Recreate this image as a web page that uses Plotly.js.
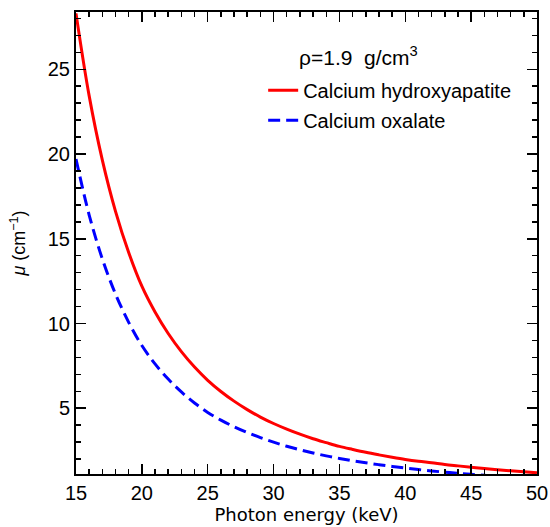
<!DOCTYPE html>
<html>
<head>
<meta charset="utf-8">
<script src="https://cdn.plot.ly/plotly-3.0.1.min.js"></script>
<style>html,body{margin:0;padding:0;background:#fff;}#chart{width:550px;height:527px;}</style>
</head>
<body>
<div id="chart"></div>
<script>
const energy = [15,16,17,18,19,20,21,22,23,24,25,26,27,28,29,30,31,32,33,34,35,36,37,38,39,40,41,42,43,44,45,46,47,48,49,50];
const hydroxyapatite = [28.3,23.43,19.64,16.62,14.19,12.2,10.68,9.41,8.34,7.43,6.65,5.99,5.42,4.92,4.48,4.1,3.77,3.47,3.2,2.97,2.75,2.57,2.4,2.25,2.11,1.98,1.87,1.78,1.68,1.6,1.52,1.44,1.37,1.31,1.25,1.19];
const oxalate = [19.7,16.4,13.81,11.74,10.07,8.7,7.62,6.72,5.96,5.31,4.75,4.3,3.91,3.57,3.27,3.0,2.76,2.55,2.36,2.19,2.04,1.9,1.78,1.67,1.565,1.47,1.38,1.3,1.23,1.16,1.1,1.04,0.99,0.94,0.9,0.85];
const xTicks = [15,20,25,30,35,40,45,50];
const yTicks = [5,10,15,20,25];

const fam = 'Liberation Sans, Arial, sans-serif';
const tickFont = {family: fam, size: 20, color: '#000'};
const xTitleFont = {family: 'DejaVu Sans, sans-serif', size: 18, color: '#000'};
const yTitleFont = {family: fam, size: 18, color: '#000'};
const legendFont = {family: fam, size: 20, color: '#000'};

const traces = [
  {x: energy, y: hydroxyapatite, mode: 'lines', name: 'Calcium hydroxyapatite', legendgroup: 'a',
   line: {color: '#ff0000', width: 3, shape: 'spline'}},
  {x: energy, y: oxalate, mode: 'lines', name: 'Calcium oxalate', legendgroup: 'b',
   line: {color: '#0000ff', width: 3, dash: '12px,6px', shape: 'spline'}}
];

const axisCommon = {
  showline: true, linewidth: 2, linecolor: '#000', mirror: 'allticks',
  ticks: 'inside', ticklen: 10, tickwidth: 1.5, tickcolor: '#000',
  showgrid: false, zeroline: false, tickfont: tickFont,
  minor: {ticks: 'inside', ticklen: 5, tickwidth: 1.5, tickcolor: '#000', dtick: 1, showgrid: false}
};

const layout = {
  width: 550, height: 527,
  margin: {l: 76, r: 13, t: 12, b: 53},
  paper_bgcolor: '#fff', plot_bgcolor: '#fff',
  font: tickFont,
  showlegend: true,
  legend: {x: 0.406, y: 0.873, xanchor: 'left', yanchor: 'top', bgcolor: 'rgba(0,0,0,0)',
           font: legendFont, traceorder: 'grouped', tracegroupgap: 1},
  xaxis: Object.assign({}, axisCommon, {range: [15, 50], tickvals: xTicks, ticktext: xTicks.map(String),
          ticklabelstandoff: 0,
          title: {text: 'Photon energy (keV)', font: xTitleFont, standoff: 5}}),
  yaxis: Object.assign({}, axisCommon, {range: [1.12, 28.38], tickvals: yTicks, ticktext: yTicks.map(String),
          title: {text: '<i>μ</i> (cm<sup>−1</sup>)', font: yTitleFont, standoff: 17}}),
  annotations: [
    {xref: 'paper', yref: 'paper', x: 0.48, y: 0.905, xanchor: 'left', yanchor: 'middle',
     text: 'ρ=1.9  g/cm<sup>3</sup>', showarrow: false, font: {family: fam, size: 21, color: '#000'}}
  ]
};

Plotly.newPlot('chart', traces, layout, {displayModeBar: false, staticPlot: true});
</script>
</body>
</html>
